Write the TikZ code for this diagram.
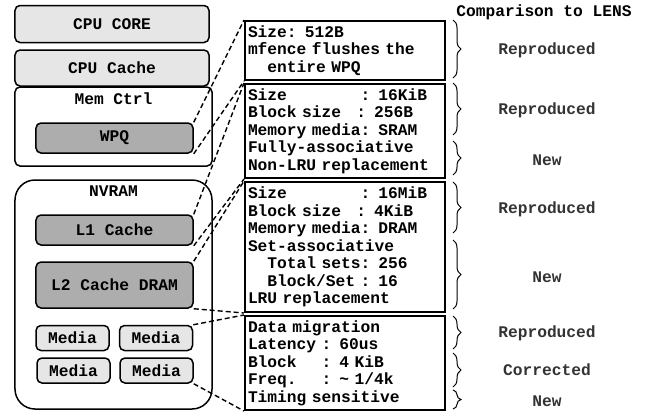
\documentclass[tikz,border=0pt]{standalone}
\usepackage{fontspec}
\setmainfont{Liberation Mono}
\usetikzlibrary{decorations.pathreplacing}
\definecolor{lightbox}{HTML}{E6E6E6}
\definecolor{darkbox}{HTML}{ADADAD}
\definecolor{verdict}{HTML}{333333}

\begin{document}
\begin{tikzpicture}[x=1bp,y=-1bp,
		every node/.style={font=\fontsize{16.3}{17.5}\selectfont\bfseries},
		unit/.style={draw,line width=1.5bp,rounded corners=5bp,inner sep=0pt},
		cpubox/.style={unit,fill=lightbox,minimum width=194bp},
		inbox/.style={unit,fill=darkbox,minimum width=157bp},
		mediabox/.style={unit,fill=lightbox,minimum width=73bp,minimum height=25bp},
		infobox/.style={draw,line width=2bp,anchor=north west,minimum width=200bp,
			text width=194bp,inner xsep=3bp,inner ysep=0pt,align=left},
		link/.style={draw,dash pattern=on 5bp off 3bp,line width=1.4bp},
		bracket/.style={decorate,decoration={brace,amplitude=8bp},line width=1bp},
		verdicttext/.style={text=verdict}]
	\useasboundingbox (0,0) rectangle (647,411);

	% left side: the hierarchy
	\node[cpubox,minimum height=37bp] (core) at (112,24) {CPU CORE};
	\node[cpubox,minimum height=36bp] (cache) at (112,68) {CPU Cache};
	\node[unit,fill=white,minimum width=197bp,minimum height=79bp] (memctrl) at (113.5,126.5) {};
	\node (memctrllabel) at (113.5,99) {Mem Ctrl};
	\node[inbox,minimum height=30bp] (wpq) at (114.5,138) {WPQ};
	\node[unit,rounded corners=20bp,fill=white,minimum width=197bp,minimum height=229bp] (nvram) at (113.5,294.5) {};
	\node (nvramlabel) at (113.5,191) {NVRAM};
	\node[inbox,minimum height=30bp] (lone) at (114.5,230) {L1 Cache};
	\node[inbox,minimum height=46bp] (ltwo) at (114.5,285) {L2 Cache DRAM};
	\node[mediabox] (mediaA) at (72.5,338) {Media};
	\node[mediabox] (mediaB) at (156,338) {Media};
	\node[mediabox] (mediaC) at (73.5,370.5) {Media};
	\node[mediabox] (mediaD) at (156.5,370.5) {Media};

	% right side: the details
	\node[infobox,minimum height=59bp] (wpqinfo) at (244,20)
		{Size: 512B\\mfence flushes the\\\phantom{xx}entire WPQ};
	\node[infobox,minimum height=94bp] (loneinfo) at (244,83)
		{Size\phantom{xxxxxxx} : 16KiB\\Block size\phantom{x} : 256B\\Memory media: SRAM\\Fully-associative\\Non-LRU replacement};
	\node[infobox,minimum height=130bp] (ltwoinfo) at (244,181)
		{Size\phantom{xxxxxxx} : 16MiB\\Block size\phantom{x} : 4KiB\\Memory media: DRAM\\Set-associative\\\phantom{xx}Total sets: 256\\\phantom{xx}Block/Set : 16\\LRU replacement};
	\node[infobox,minimum height=94bp] (mediainfo) at (244,315)
		{Data migration\\Latency : 60us\\Block\phantom{xx} : 4 KiB\\Freq.\phantom{xx} : \textasciitilde{} 1/4k\\Timing sensitive};

	% dashed zoom lines
	\draw[link] (wpq.north east) -- (wpqinfo.north west);
	\draw[link] (wpq.south east) -- (wpqinfo.south west);
	\draw[link] (lone.north east) -- (loneinfo.north west);
	\draw[link] (lone.south east) -- (loneinfo.south west);
	\draw[link] (ltwo.north east) -- (ltwoinfo.north west);
	\draw[link] (ltwo.south east) -- (ltwoinfo.south west);
	\draw[link] (mediaB.north east) -- (mediainfo.north west);
	\draw[link] (mediaD.south east) -- (mediainfo.south west);

	% comparison column
	\node (title) at (544,12) {Comparison to LENS};
	\draw[bracket] (453,20) -- (453,78);
	\node[verdicttext] (vA) at (547,50) {Reproduced};
	\draw[bracket] (453,83) -- (453,135);
	\node[verdicttext] (vB) at (547,110) {Reproduced};
	\draw[bracket] (453,141) -- (453,175);
	\node[verdicttext] (vC) at (547,160) {New};
	\draw[bracket] (453,182) -- (453,233);
	\node[verdicttext] (vD) at (547,209) {Reproduced};
	\draw[bracket] (453,240) -- (453,309);
	\node[verdicttext] (vE) at (547,277) {New};
	\draw[bracket] (453,316) -- (453,349);
	\node[verdicttext] (vF) at (547,333) {Reproduced};
	\draw[bracket] (453,353) -- (453,387);
	\node[verdicttext] (vG) at (547,370) {Corrected};
	\draw[bracket] (453,390) -- (453,409);
	\node[verdicttext] (vH) at (547,401) {New};
\end{tikzpicture}
\end{document}
